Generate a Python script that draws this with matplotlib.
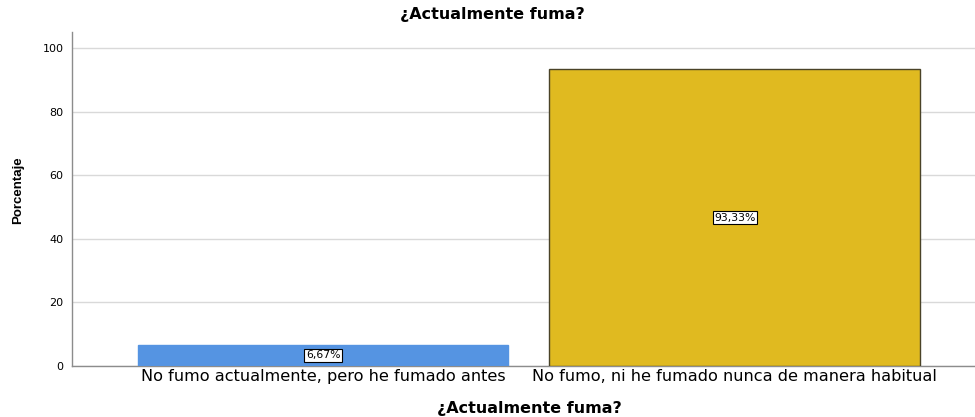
import matplotlib
matplotlib.use("Agg")
import matplotlib.pyplot as plt

categories = ["No fumo actualmente, pero he fumado antes",
              "No fumo, ni he fumado nunca de manera habitual"]
percent = [6.67, 93.33]
labels = ["6,67%", "93,33%"]
colors = ["#5594E2", "#E0BA20"]
edges = ["#5594E2", "#4a4328"]

plt.rcParams['font.family'] = ['DejaVu Sans']

fig = plt.figure(figsize=(9.75, 4.17), dpi=100)
ax = fig.add_axes([0.0738, 0.1223, 0.9262, 0.801])

x = list(range(len(categories)))
ax.bar(x, percent, width=0.9, color=colors, edgecolor=edges, linewidth=1, zorder=3)

for xi, v, lab in zip(x, percent, labels):
    ax.text(xi, v / 2, lab, ha='center', va='center', fontsize=7.8, zorder=4,
            bbox=dict(boxstyle='square,pad=0.12', facecolor='white',
                      edgecolor='black', linewidth=0.8))

ax.set_xlim(-0.61, 1.584)
ax.set_ylim(0, 105)
ax.set_yticks([0, 20, 40, 60, 80, 100])
ax.set_xticks(x)
ax.set_xticklabels(categories, fontsize=11.6)
ax.tick_params(axis='y', labelsize=8, length=0, pad=6)
ax.tick_params(axis='x', length=0, pad=2)
ax.yaxis.grid(True, color='#d9d9d9', linewidth=1, zorder=0)
ax.set_axisbelow(True)

for s in ['top', 'right']:
    ax.spines[s].set_visible(False)
for s in ['left', 'bottom']:
    ax.spines[s].set_color('#8c8c8c')
    ax.spines[s].set_linewidth(1)

fig.text(492 / 975, 1 - 14 / 417, "¿Actualmente fuma?", ha='center', va='center',
         fontsize=11.5, fontweight='bold')
fig.text(529 / 975, 1 - 408 / 417, "¿Actualmente fuma?", ha='center', va='center',
         fontsize=11.5, fontweight='bold')
fig.text(18 / 975, 1 - 190 / 417, "Porcentaje", rotation=90, ha='center', va='center',
         fontsize=9.5, fontweight='bold', family=['Liberation Sans'])

fig.savefig("out.png", dpi=100)
